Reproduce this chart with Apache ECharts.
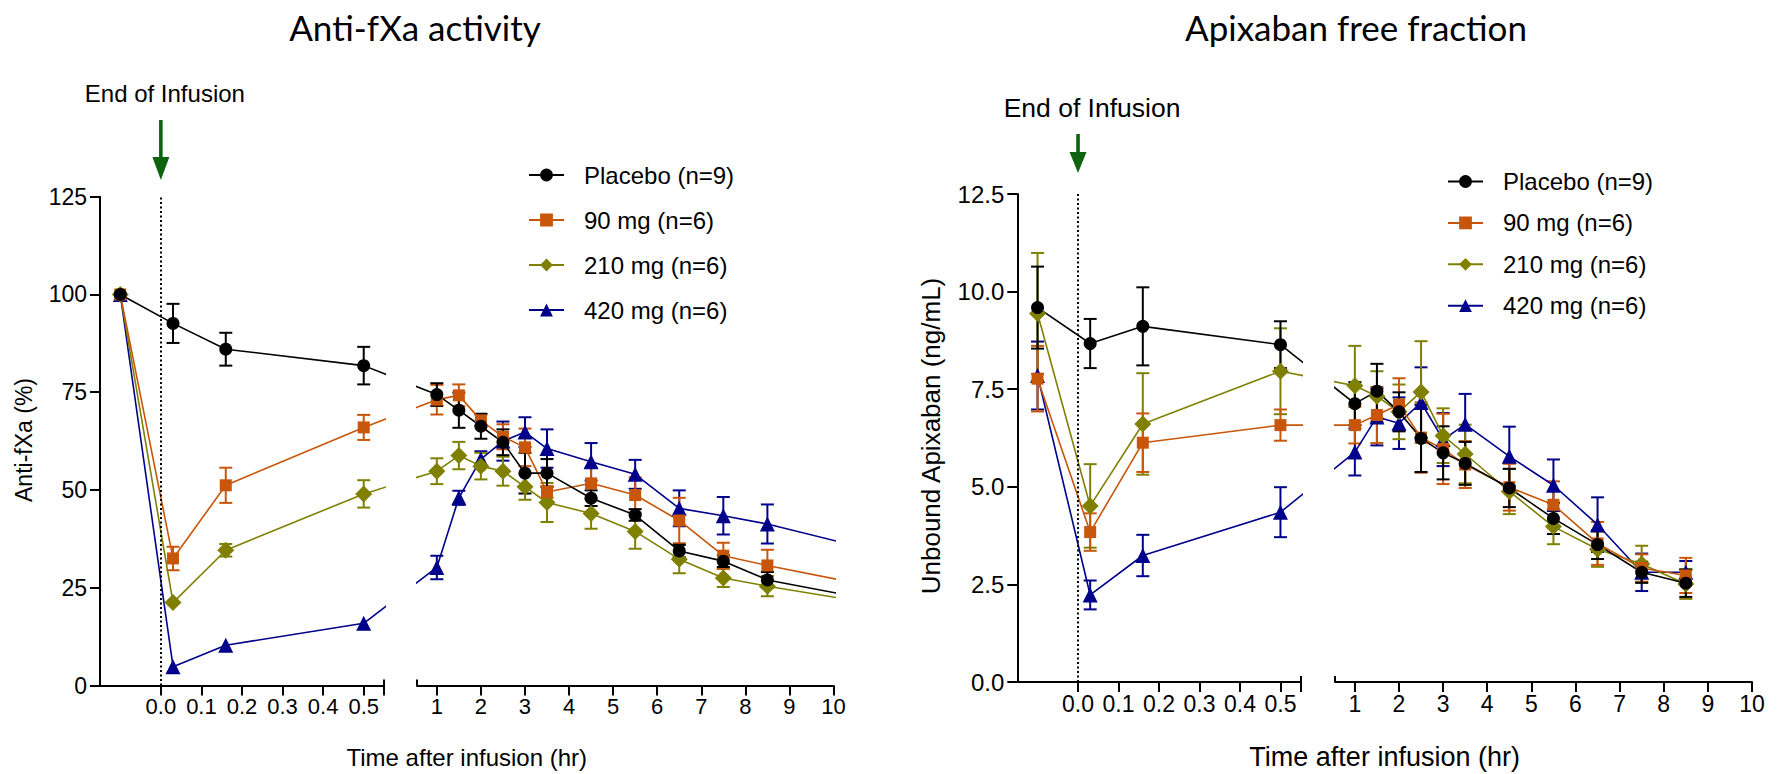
<!DOCTYPE html>
<html><head><meta charset="utf-8">
<script src="https://cdn.jsdelivr.net/npm/echarts@6/dist/echarts.min.js"></script>
<style>html,body{margin:0;padding:0;background:#fff}#c{width:1783px;height:774px}</style>
</head><body><div id="c"></div>
<script>
// ---------------- data ----------------
const groupNames = ['Placebo (n=9)', '90 mg (n=6)', '210 mg (n=6)', '420 mg (n=6)'];
const groupColors = ['#000000', '#C8560A', '#808000', '#00008B'];
const groupSymbols = ['circle', 'rect', 'diamond', 'triangle'];
const groupSymbolSizes = [13, 12, 17, 15];

// time after infusion (hr); -0.1 = pre-dose baseline
const antiTimes = [-0.1, 0.03, 0.16, 0.5, 1, 1.5, 2, 2.5, 3, 3.5, 4.5, 5.5, 6.5, 7.5, 8.5, 12];
const antiPlacebo = [100, 92.6, 86.0, 81.8, 74.4, 70.4, 66.3, 62.2, 54.3, 54.3, 47.9, 43.6, 34.4, 31.8, 27.0, 19.5];
const antiPlaceboSE = [0, 5.0, 4.2, 4.8, 2.9, 4.5, 3.2, 3.3, 5.2, 3.6, 2.0, 1.5, 1.6, 1.5, 2.0, 0];
const anti90 = [100, 32.5, 51.2, 66.0, 73.1, 74.2, 67.8, 63.6, 60.9, 49.5, 51.7, 48.7, 42.2, 33.2, 30.7, 22.8];
const anti90SE = [0, 3.0, 4.5, 3.2, 3.8, 2.8, 1.5, 3.2, 4.8, 1.5, 4.0, 4.5, 5.8, 3.3, 4.0, 0];
const anti210 = [100, 21.2, 34.6, 49.0, 54.8, 58.8, 56.1, 54.8, 50.8, 46.8, 44.0, 39.4, 32.3, 27.5, 25.4, 18.9];
const anti210SE = [0, 0, 1.6, 3.5, 3.3, 3.5, 3.4, 3.7, 3.3, 5.0, 3.9, 4.4, 3.6, 2.3, 2.6, 0];
const anti420 = [100, 4.8, 10.3, 15.9, 30.2, 48.0, 57.9, 62.5, 64.8, 60.6, 57.2, 54.0, 45.3, 43.4, 41.3, 31.5];
const anti420SE = [0, 0, 0, 0, 3.0, 1.8, 2.0, 5.0, 3.8, 4.9, 4.8, 3.7, 4.6, 4.8, 5.0, 0];

const apixTimes = [-0.1, 0.03, 0.16, 0.5, 1, 1.5, 2, 2.5, 3, 3.5, 4.5, 5.5, 6.5, 7.5, 8.5];
const apixPlacebo = [9.59, 8.67, 9.11, 8.64, 7.13, 7.45, 6.92, 6.24, 5.87, 5.60, 4.97, 4.19, 3.52, 2.81, 2.53];
const apixPlaceboSE = [1.05, 0.63, 1.0, 0.6, 0.55, 0.7, 0.5, 0.86, 0.68, 0.55, 0.49, 0.4, 0.37, 0.27, 0.35];
const apix90 = [7.77, 3.84, 6.13, 6.58, 6.58, 6.84, 7.11, 6.26, 5.97, 5.57, 4.99, 4.54, 3.55, 2.92, 2.73];
const apix90SE = [0.84, 0.48, 0.75, 0.4, 0.47, 0.72, 0.67, 0.9, 0.9, 0.6, 0.6, 0.6, 0.55, 0.35, 0.45];
const apix210 = [9.44, 4.51, 6.61, 7.96, 7.59, 7.32, 6.92, 7.43, 6.31, 5.84, 4.88, 3.98, 3.40, 3.02, 2.51];
const apix210SE = [1.55, 1.07, 1.3, 1.1, 1.02, 0.64, 0.7, 1.3, 0.7, 0.75, 0.58, 0.45, 0.45, 0.47, 0.38];
const apix420 = [7.85, 2.23, 3.24, 4.35, 5.89, 6.79, 6.63, 7.16, 6.21, 6.60, 5.78, 5.04, 4.03, 2.81, 2.81];
const apix420SE = [0.87, 0.37, 0.53, 0.64, 0.6, 0.73, 0.66, 0.9, 0.68, 0.78, 0.76, 0.66, 0.7, 0.48, 0.29];

const earlyTicks = [0, 0.1, 0.2, 0.3, 0.4, 0.5];
const lateTicks = [1, 2, 3, 4, 5, 6, 7, 8, 9, 10];
const T_MIN = -0.15, T_BREAK = 0.55, T_MAX = 10;

// ---------------- layout ----------------
const FONT = '"Liberation Sans", Arial, sans-serif';
const TITLE_FONT = 'Lato, "Open Sans", sans-serif';
const panels = [
  {
    title: 'Anti-fXa activity', titleX: 415, yName: 'Anti-fXa (%)', yNameX: 24, yNameY: 440, yNameSize: 23,
    times: antiTimes, means: [antiPlacebo, anti90, anti210, anti420], ses: [antiPlaceboSE, anti90SE, anti210SE, anti420SE],
    axisX: 100, lEnd: 384, rStart: 417, rEnd: 833.5, top: 196.7, bottom: 685.5,
    yMax: 125, yInterval: 25, yDec: 0, yLabelSize: 23, xLabelSize: 22,
    legendLeft: 528, legendTop: 162, legendGap: 20,
    eoiSize: 24, eoiY: 93, eoiDx: 4, arrowTop: 120, arrowHead: 157, arrowTip: 180,
    xNameSize: 24, xNameY: 757
  },
  {
    title: 'Apixaban free fraction', titleX: 1356, yName: 'Unbound Apixaban (ng/mL)', yNameX: 931, yNameY: 436, yNameSize: 26,
    times: apixTimes, means: [apixPlacebo, apix90, apix210, apix420], ses: [apixPlaceboSE, apix90SE, apix210SE, apix420SE],
    axisX: 1017.3, lEnd: 1300.7, rStart: 1335, rEnd: 1752, top: 194, bottom: 682,
    yMax: 12.5, yInterval: 2.5, yDec: 1, yLabelSize: 24, xLabelSize: 23,
    legendLeft: 1447, legendTop: 168.5, legendGap: 16.4,
    eoiSize: 26.5, eoiY: 108, eoiDx: 14, arrowTop: 134, arrowHead: 152, arrowTip: 173,
    xNameSize: 27, xNameY: 757
  }
];

function makeU(p) {
  const pxL = (p.lEnd - p.axisX) / (T_BREAK - T_MIN);
  const pxR = (p.rEnd - p.rStart) / (T_MAX - T_BREAK);
  const gap = p.rStart - p.lEnd;
  return t => t <= T_BREAK ? t : T_BREAK + (gap + (t - T_BREAK) * pxR) / pxL;
}

function errRender(color) {
  return function (params, api) {
    const x = api.value(0), y = api.value(1), e = api.value(2);
    const a = api.coord([x, y + e]), b = api.coord([x, y - e]);
    const hw = 6.5;
    const style = { stroke: color, lineWidth: 2, fill: null };
    return { type: 'group', children: [
      { type: 'line', shape: { x1: a[0], y1: a[1], x2: b[0], y2: b[1] }, style },
      { type: 'line', shape: { x1: a[0] - hw, y1: a[1], x2: a[0] + hw, y2: a[1] }, style },
      { type: 'line', shape: { x1: b[0] - hw, y1: b[1], x2: b[0] + hw, y2: b[1] }, style }
    ] };
  };
}

const grids = [], xAxes = [], yAxes = [], series = [], legends = [];
const axisLineStyle = { color: '#000', width: 2 };

panels.forEach((p, pi) => {
  const u = makeU(p);
  const segs = [
    { left: p.axisX, width: p.lEnd - p.axisX, tMin: T_MIN, tMax: T_BREAK, ticks: earlyTicks, caps: [T_BREAK], dec: 1 },
    { left: p.rStart, width: p.rEnd - p.rStart, tMin: T_BREAK, tMax: T_MAX, ticks: lateTicks, caps: [T_BREAK], dec: 0 }
  ];
  segs.forEach((s, si) => {
    const g = grids.length;
    s.grid = g;
    grids.push({ left: s.left, top: p.top, width: s.width, height: p.bottom - p.top, containLabel: false });
    s.xVis = xAxes.length;
    xAxes.push({
      gridIndex: g, type: 'value', min: s.tMin, max: s.tMax, position: 'bottom',
      axisLine: { show: true, onZero: false, lineStyle: axisLineStyle },
      axisTick: { show: true, length: 10, lineStyle: axisLineStyle, customValues: s.ticks.concat(si === 0 ? [T_BREAK] : []) },
      axisLabel: { show: true, customValues: s.ticks, formatter: v => Number(v).toFixed(s.dec), fontSize: p.xLabelSize, fontFamily: FONT, color: '#000', margin: 10 },
      splitLine: { show: false }
    });
    s.xU = xAxes.length;
    xAxes.push({ gridIndex: g, type: 'value', min: si === 0 ? u(s.tMin) : u(T_BREAK + 1e-9), max: u(s.tMax), show: false,
      axisLine: { onZero: false } });
    xAxes.push({
      gridIndex: g, type: 'value', min: s.tMin, max: s.tMax, position: 'bottom',
      axisLine: { show: false, onZero: false }, axisLabel: { show: false }, splitLine: { show: false },
      axisTick: { show: true, inside: true, length: 6, lineStyle: axisLineStyle, customValues: s.caps }
    });
    yAxes.push({
      gridIndex: g, type: 'value', min: 0, max: p.yMax, interval: p.yInterval, show: si === 0, position: 'left',
      axisLine: { show: true, onZero: false, lineStyle: axisLineStyle },
      axisTick: { show: true, length: 10, lineStyle: axisLineStyle },
      axisLabel: { formatter: v => Number(v).toFixed(p.yDec), fontSize: p.yLabelSize, fontFamily: FONT, color: '#000', margin: 13 },
      splitLine: { show: false }
    });
  });
  p.segs = segs;

  // draw order: 420 first, placebo last (on top)
  [3, 2, 1, 0].forEach(k => {
    const color = groupColors[k];
    segs.forEach((s, si) => {
      const pts = p.times.map((t, i) => [u(t), p.means[k][i]]);
      const errPts = p.times.map((t, i) => [t, u(t), p.means[k][i], p.ses[k][i]])
        .filter(d => d[3] > 0 && d[0] >= s.tMin && d[0] <= s.tMax)
        .map(d => [d[1], d[2], d[3]]);
      series.push({
        type: 'custom', name: groupNames[k] + ' SEM', xAxisIndex: s.xU, yAxisIndex: s.grid,
        renderItem: errRender(color), data: errPts, encode: { x: 0, y: 1 }, clip: true, silent: true, z: 2
      });
      const line = {
        type: 'line', name: groupNames[k], xAxisIndex: s.xU, yAxisIndex: s.grid, data: pts,
        symbol: groupSymbols[k], symbolSize: groupSymbolSizes[k], showSymbol: true, clip: true,
        itemStyle: { color: color, borderWidth: 0 }, lineStyle: { color: color, width: 1.6 },
        emphasis: { disabled: true }, silent: true, z: 2
      };
      if (k === 0 && si === 0) {
        line.markLine = {
          silent: true, symbol: ['none', 'none'], label: { show: false },
          lineStyle: { type: [2, 2.5], color: '#000', width: 2 },
          data: [{ xAxis: u(0) }]
        };
      }
      series.push(line);
    });
  });

  legends.push({
    left: p.legendLeft, top: p.legendTop, orient: 'vertical', padding: 0,
    itemWidth: 35, itemHeight: 16, itemGap: p.legendGap - 1, selectedMode: false,
    data: groupNames,
    textStyle: { fontSize: 24, fontFamily: FONT, color: '#000', lineHeight: 26, padding: [0, 0, 0, 15] }
  });
});

const chart = echarts.init(document.getElementById('c'), null, { renderer: 'svg' });
chart.setOption({
  animation: false,
  backgroundColor: '#fff',
  grid: grids, xAxis: xAxes, yAxis: yAxes, series: series, legend: legends
});

// annotations positioned through the axes
const graphics = [];
panels.forEach(p => {
  const x0 = chart.convertToPixel({ xAxisIndex: p.segs[0].xVis }, 0);
  graphics.push({
    type: 'polygon', silent: true,
    shape: { points: [[x0 - 1.8, p.arrowTop], [x0 + 1.8, p.arrowTop], [x0 + 1.8, p.arrowHead], [x0 + 8.5, p.arrowHead], [x0, p.arrowTip], [x0 - 8.5, p.arrowHead], [x0 - 1.8, p.arrowHead]] },
    style: { fill: '#0E640E' }
  });
  graphics.push({ type: 'text', silent: true, x: x0 + p.eoiDx, y: p.eoiY,
    style: { text: 'End of Infusion', fontSize: p.eoiSize, fontFamily: FONT, fill: '#000', align: 'center', verticalAlign: 'middle' } });
  graphics.push({ type: 'text', silent: true, x: p.titleX, y: 27,
    style: { text: p.title, fontSize: 35, fontFamily: TITLE_FONT, fill: '#000', align: 'center', verticalAlign: 'middle' } });
  graphics.push({ type: 'text', silent: true, x: (p.axisX + p.rEnd) / 2, y: p.xNameY,
    style: { text: 'Time after infusion (hr)', fontSize: p.xNameSize, fontFamily: FONT, fill: '#000', align: 'center', verticalAlign: 'middle' } });
  graphics.push({ type: 'text', silent: true, x: p.yNameX, y: p.yNameY, rotation: Math.PI / 2,
    style: { text: p.yName, fontSize: p.yNameSize, fontFamily: FONT, fill: '#000', align: 'center', verticalAlign: 'middle' } });
});
chart.setOption({ graphic: graphics });
</script>
</body></html>
